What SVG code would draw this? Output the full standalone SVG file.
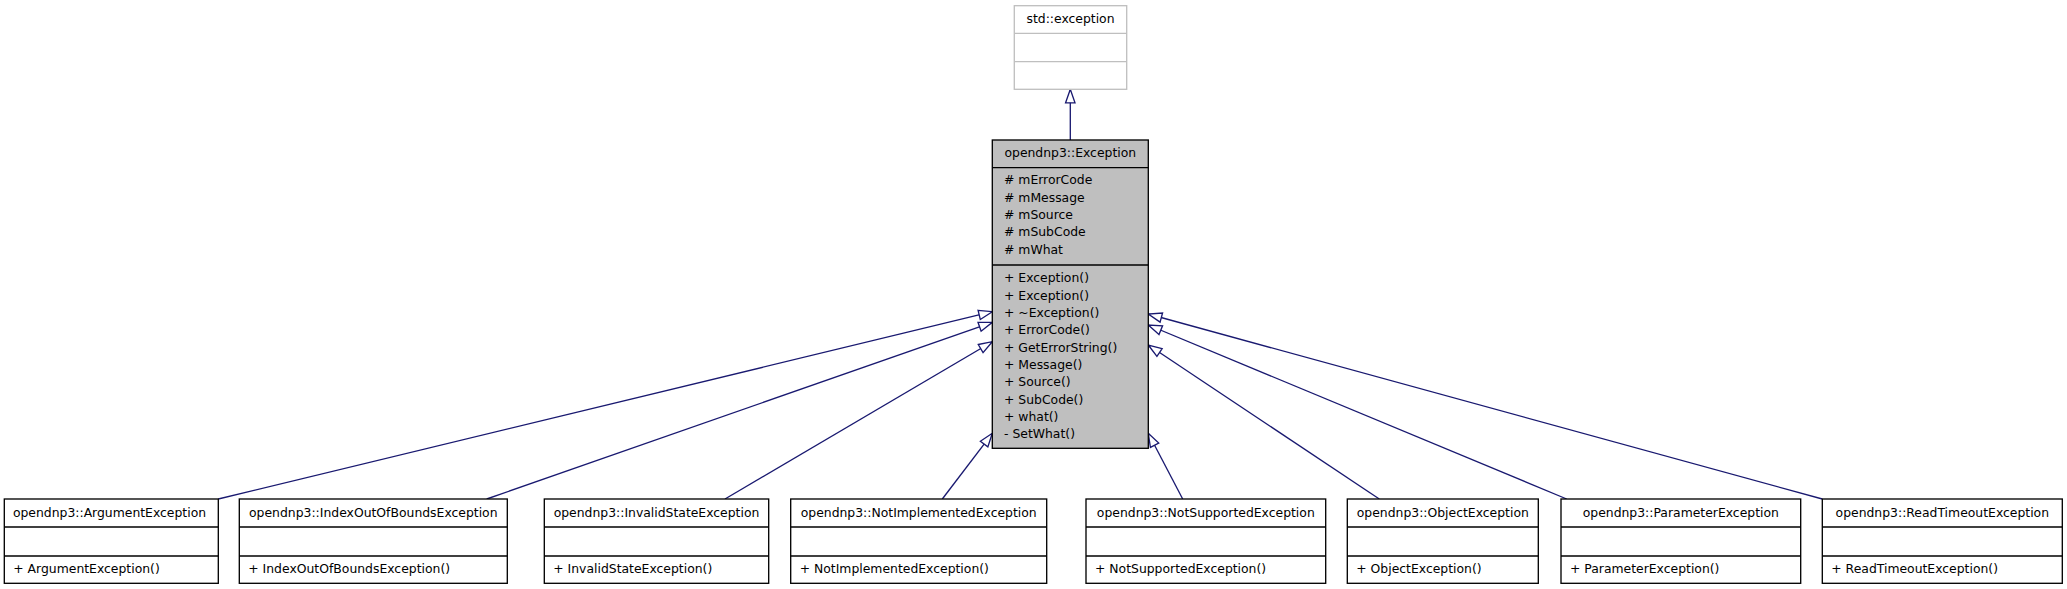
<svg xmlns="http://www.w3.org/2000/svg" width="2067" height="589" viewBox="0 0 2067 589">
<style>
text{font-family:"DejaVu Sans",sans-serif;font-size:12.4px;fill:#000}
.t{text-anchor:middle}
.box{fill:#fff;stroke:#000;stroke-width:1.33}
.sep{stroke:#000;stroke-width:1.33}
.gbox{fill:#fff;stroke:#bfbfbf;stroke-width:1.33}
.gsep{stroke:#bfbfbf;stroke-width:1.33}
.main{fill:#bfbfbf;stroke:#000;stroke-width:1.33}
.edge{stroke:#191970;stroke-width:1.33;fill:none;marker-end:url(#inh)}
</style>
<defs>
<marker id="inh" viewBox="0 0 14 10" refX="14" refY="5" markerWidth="14" markerHeight="10" markerUnits="userSpaceOnUse" orient="auto" overflow="visible">
<path d="M0.5,0.3 L14,5 L0.5,9.7 Z" fill="#fff" stroke="#191970" stroke-width="1.33"/>
</marker>
</defs>
<g id="connectors">
<line class="edge" x1="1070.3" y1="140" x2="1070.3" y2="89.3"/>
<line class="edge" x1="218.3" y1="499" x2="992.3" y2="311.7"/>
<line class="edge" x1="486.7" y1="499" x2="992.3" y2="322.3"/>
<line class="edge" x1="725" y1="499" x2="992.3" y2="341.7"/>
<line class="edge" x1="942.3" y1="499" x2="992.3" y2="433.3"/>
<line class="edge" x1="1182.7" y1="499" x2="1148.3" y2="433.3"/>
<line class="edge" x1="1379.3" y1="499" x2="1148.3" y2="345"/>
<line class="edge" x1="1566.7" y1="499" x2="1148.3" y2="325"/>
<line class="edge" x1="1822.3" y1="499" x2="1148.3" y2="314"/>
</g>
<g id="std_exception">
<rect class="gbox" x="1014.3" y="5.7" width="112.4" height="83.6"/>
<line class="gsep" x1="1014.3" y1="33.3" x2="1126.7" y2="33.3"/>
<line class="gsep" x1="1014.3" y1="61.7" x2="1126.7" y2="61.7"/>
<text class="t" x="1070.5" y="23.3">std::exception</text>
</g>
<g id="Exception">
<rect class="main" x="992.3" y="140" width="156" height="308.3"/>
<line class="sep" x1="992.3" y1="167.7" x2="1148.3" y2="167.7"/>
<line class="sep" x1="992.3" y1="265" x2="1148.3" y2="265"/>
<text class="t" x="1070.3" y="156.7">opendnp3::Exception</text>
<text x="1004" y="184.3"># mErrorCode</text>
<text x="1004" y="201.6"># mMessage</text>
<text x="1004" y="219"># mSource</text>
<text x="1004" y="236.3"># mSubCode</text>
<text x="1004" y="253.6"># mWhat</text>
<text x="1004" y="282.3">+ Exception()</text>
<text x="1004" y="299.6">+ Exception()</text>
<text x="1004" y="317">+ ~Exception()</text>
<text x="1004" y="334.3">+ ErrorCode()</text>
<text x="1004" y="351.6">+ GetErrorString()</text>
<text x="1004" y="369">+ Message()</text>
<text x="1004" y="386.3">+ Source()</text>
<text x="1004" y="403.6">+ SubCode()</text>
<text x="1004" y="421">+ what()</text>
<text x="1004" y="438.3">- SetWhat()</text>
</g>
<g id="ArgumentException">
<rect class="box" x="4.3" y="499" width="214" height="84.3"/>
<line class="sep" x1="4.3" y1="527" x2="218.3" y2="527"/>
<line class="sep" x1="4.3" y1="556" x2="218.3" y2="556"/>
<text class="t" x="109.5" y="516.7">opendnp3::ArgumentException</text>
<text x="13.3" y="572.7">+ ArgumentException()</text>
</g>
<g id="IndexOutOfBoundsException">
<rect class="box" x="239.3" y="499" width="268" height="84.3"/>
<line class="sep" x1="239.3" y1="527" x2="507.3" y2="527"/>
<line class="sep" x1="239.3" y1="556" x2="507.3" y2="556"/>
<text class="t" x="373.3" y="516.7">opendnp3::IndexOutOfBoundsException</text>
<text x="248.3" y="572.7">+ IndexOutOfBoundsException()</text>
</g>
<g id="InvalidStateException">
<rect class="box" x="544.3" y="499" width="224.4" height="84.3"/>
<line class="sep" x1="544.3" y1="527" x2="768.7" y2="527"/>
<line class="sep" x1="544.3" y1="556" x2="768.7" y2="556"/>
<text class="t" x="656.5" y="516.7">opendnp3::InvalidStateException</text>
<text x="553.3" y="572.7">+ InvalidStateException()</text>
</g>
<g id="NotImplementedException">
<rect class="box" x="790.7" y="499" width="256" height="84.3"/>
<line class="sep" x1="790.7" y1="527" x2="1046.7" y2="527"/>
<line class="sep" x1="790.7" y1="556" x2="1046.7" y2="556"/>
<text class="t" x="918.7" y="516.7">opendnp3::NotImplementedException</text>
<text x="799.7" y="572.7">+ NotImplementedException()</text>
</g>
<g id="NotSupportedException">
<rect class="box" x="1086" y="499" width="239.7" height="84.3"/>
<line class="sep" x1="1086" y1="527" x2="1325.7" y2="527"/>
<line class="sep" x1="1086" y1="556" x2="1325.7" y2="556"/>
<text class="t" x="1205.8" y="516.7">opendnp3::NotSupportedException</text>
<text x="1095" y="572.7">+ NotSupportedException()</text>
</g>
<g id="ObjectException">
<rect class="box" x="1347.3" y="499" width="191" height="84.3"/>
<line class="sep" x1="1347.3" y1="527" x2="1538.3" y2="527"/>
<line class="sep" x1="1347.3" y1="556" x2="1538.3" y2="556"/>
<text class="t" x="1442.8" y="516.7">opendnp3::ObjectException</text>
<text x="1356.3" y="572.7">+ ObjectException()</text>
</g>
<g id="ParameterException">
<rect class="box" x="1561" y="499" width="239.7" height="84.3"/>
<line class="sep" x1="1561" y1="527" x2="1800.7" y2="527"/>
<line class="sep" x1="1561" y1="556" x2="1800.7" y2="556"/>
<text class="t" x="1680.8" y="516.7">opendnp3::ParameterException</text>
<text x="1570" y="572.7">+ ParameterException()</text>
</g>
<g id="ReadTimeoutException">
<rect class="box" x="1822.3" y="499" width="240" height="84.3"/>
<line class="sep" x1="1822.3" y1="527" x2="2062.3" y2="527"/>
<line class="sep" x1="1822.3" y1="556" x2="2062.3" y2="556"/>
<text class="t" x="1942.3" y="516.7">opendnp3::ReadTimeoutException</text>
<text x="1831.3" y="572.7">+ ReadTimeoutException()</text>
</g>
</svg>
